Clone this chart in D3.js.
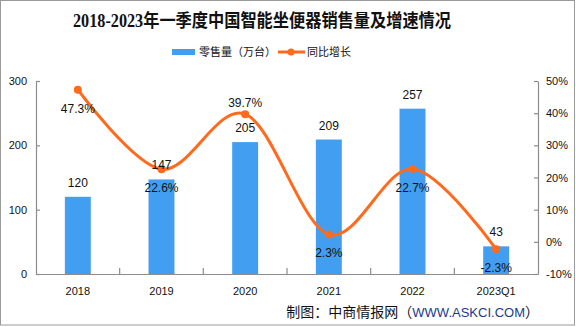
<!DOCTYPE html>
<html><head><meta charset="utf-8">
<script src="https://cdn.jsdelivr.net/npm/d3@7"></script>
<style>
html,body{margin:0;padding:0;background:#fff;}
svg{display:block;}
</style></head>
<body>
<script>
const categories = ["2018","2019","2020","2021","2022","2023Q1"];
const sales = [120,147,205,209,257,43];
const growth = [47.3,22.6,39.7,2.3,22.7,-2.3];
const growthLabelAbove = [false,false,true,false,false,false];
const leftTicks = [0,100,200,300];
const rightTicks = [-10,0,10,20,30,40,50];
const titleText = "2018-2023年一季度中国智能坐便器销售量及增速情况";
const legendBar = "零售量（万台）";
const legendLine = "同比增长";

const W = 576, H = 327;
const L = 36, R = 538, T = 81, B = 274;
const blue = "#419ef0", orange = "#ff6a1c", axisC = "#8c8c8c";
const numFont = "'Liberation Sans', Arial, sans-serif";
const cjkFont = "'Noto Sans CJK SC', sans-serif";

const svg = d3.select("body").append("svg").attr("width", W).attr("height", H);
svg.append("rect").attr("x",0.5).attr("y",0.5).attr("width",574).attr("height",324.5)
  .attr("fill","#fff").attr("stroke","#9a9a9a");

const x = d3.scaleBand().domain(categories).range([L,R]).paddingInner(0.69).paddingOuter(0.345);
const step = x.step();
const yL = d3.scaleLinear().domain([0,300]).range([B,T]);
const yR = d3.scaleLinear().domain([-10,50]).range([B,T]);
const cx = c => x(c) + x.bandwidth()/2;

// Title
svg.append("text").attr("x", 73).attr("y", 27).attr("text-anchor","start")
  .attr("textLength", 378).attr("lengthAdjust","spacingAndGlyphs")
  .attr("font-family","'Liberation Serif', 'Noto Sans CJK SC', serif").attr("font-weight","bold")
  .attr("font-size",18).attr("fill","#111").text(titleText);

// Legend
const lg = svg.append("g");
lg.append("rect").attr("x",172).attr("y",49).attr("width",23).attr("height",6).attr("fill",blue);
lg.append("text").attr("x",199).attr("y",56).attr("font-family",cjkFont).attr("font-size",11).attr("fill","#111").text(legendBar);
lg.append("line").attr("x1",278).attr("x2",305).attr("y1",52).attr("y2",52).attr("stroke",orange).attr("stroke-width",3);
lg.append("circle").attr("cx",291).attr("cy",52).attr("r",3.5).attr("fill",orange);
lg.append("text").attr("x",307).attr("y",56).attr("font-family",cjkFont).attr("font-size",11).attr("fill","#111").text(legendLine);

// Bars
svg.append("g").selectAll("rect").data(categories).join("rect")
  .attr("x", d => x(d)).attr("width", x.bandwidth())
  .attr("y", (d,i) => yL(sales[i])).attr("height", (d,i) => B - yL(sales[i]))
  .attr("fill", blue);

// Axes
const axL = svg.append("g").attr("transform",`translate(${L},0)`)
  .call(d3.axisLeft(yL).tickValues(leftTicks).tickSizeInner(-4).tickSizeOuter(0).tickPadding(9));
const axR = svg.append("g").attr("transform",`translate(${R},0)`)
  .call(d3.axisRight(yR).tickValues(rightTicks).tickSizeInner(-4).tickSizeOuter(0).tickPadding(8).tickFormat(d => d + "%"));
const axB = svg.append("g").attr("transform",`translate(0,${B})`)
  .call(d3.axisBottom(x).tickSize(0).tickPadding(13));
[axL,axR,axB].forEach(a => {
  a.selectAll("path,line").attr("stroke",axisC).attr("stroke-width",1.2);
  a.selectAll("text").attr("font-family",numFont).attr("font-size",11).attr("fill","#111");
});
// category separator ticks (inward)
const sepX = d3.range(1, categories.length).map(i => L + i*step);
svg.append("g").selectAll("line").data(sepX).join("line")
  .attr("x1", d=>d).attr("x2", d=>d).attr("y1", B).attr("y2", B-6)
  .attr("stroke", axisC).attr("stroke-width",1.2);

// Line
const line = d3.line().x((d,i) => cx(categories[i])).y(d => yR(d)).curve(d3.curveCardinal);
svg.append("path").datum(growth).attr("d", line).attr("fill","none")
  .attr("stroke",orange).attr("stroke-width",3);
svg.append("g").selectAll("circle").data(growth).join("circle")
  .attr("cx",(d,i)=>cx(categories[i])).attr("cy",d=>yR(d)).attr("r",4).attr("fill",orange);

// Labels
svg.append("g").selectAll("text").data(sales).join("text")
  .attr("x",(d,i)=>cx(categories[i])).attr("y",(d)=>yL(d)-10).attr("text-anchor","middle")
  .attr("font-family",numFont).attr("font-size",12).attr("fill","#111").text(d=>d);
svg.append("g").selectAll("text").data(growth).join("text")
  .attr("x",(d,i)=>cx(categories[i])).attr("y",(d,i)=> growthLabelAbove[i] ? yR(d)-7 : yR(d)+23).attr("text-anchor","middle")
  .attr("font-family",numFont).attr("font-size",12).attr("fill","#111").text(d=>d.toFixed(1)+"%");

// Footer
const ft = svg.append("text").attr("x",539).attr("y",317).attr("text-anchor","end")
  .attr("font-family","'Noto Sans CJK SC', 'Liberation Sans', sans-serif").attr("font-size",14).attr("fill","#111");
ft.append("tspan").text("制图：中商情报网（");
ft.append("tspan").attr("fill","#1a3a8c").attr("font-family",numFont).attr("font-size",13).text("WWW.ASKCI.COM");
ft.append("tspan").text("）");
</script>
</body></html>
